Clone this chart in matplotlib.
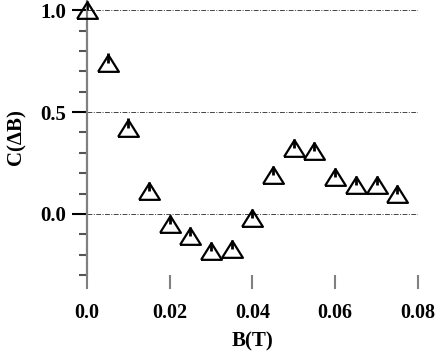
import numpy as np
import matplotlib
matplotlib.use('Agg')
import matplotlib.pyplot as plt
from matplotlib.ticker import MultipleLocator

# Data
b_field = [0.0, 0.005, 0.01, 0.015, 0.02, 0.025, 0.03, 0.035,
           0.04, 0.045, 0.05, 0.055, 0.06, 0.065, 0.07, 0.075]
c_delta = [1.0, 0.743, 0.424, 0.113, -0.049, -0.110, -0.181, -0.172,
           -0.020, 0.191, 0.324, 0.309, 0.181, 0.142, 0.142, 0.098]
err_up = [0.045] * len(b_field)
err_down = [0.0] * len(b_field)

x_ticks = [0.0, 0.02, 0.04, 0.06, 0.08]
x_tick_labels = ['0.0', '0.02', '0.04', '0.06', '0.08']
y_ticks = [0.0, 0.5, 1.0]
y_tick_labels = ['0.0', '0.5', '1.0']

plt.rcParams['font.family'] = ['Liberation Serif', 'DejaVu Serif']
plt.rcParams['font.weight'] = 'bold'

fig = plt.figure(figsize=(4.36, 3.56), dpi=100)
ax = fig.add_axes([0.1995, 0.2275, 0.759, 0.7725])

# open triangle marker, slightly wider than tall
tri = [(-1.0, -0.8), (1.0, -0.8), (0.0, 0.8), (-1.0, -0.8)]
ax.errorbar(b_field, c_delta, yerr=[err_down, err_up], fmt='none',
            ecolor='black', elinewidth=2.0, capsize=0, zorder=3)
ax.plot(b_field, c_delta, linestyle='none', marker=tri, markersize=15,
        markerfacecolor='none', markeredgecolor='black',
        markeredgewidth=1.6, zorder=4, clip_on=False)

ax.set_xlim(0.0, 0.08)
ax.set_ylim(-0.3, 1.05)

for y in y_ticks:
    ax.axhline(y, color='#444444', linewidth=0.7, linestyle=(0, (5, 1.5, 1, 1.5)), zorder=1)

ax.set_xticks(x_ticks)
ax.set_xticklabels(x_tick_labels)
ax.set_yticks(y_ticks)
ax.set_yticklabels(y_tick_labels)
ax.yaxis.set_minor_locator(MultipleLocator(0.1))

for side in ['top', 'right', 'bottom']:
    ax.spines[side].set_visible(False)
ax.spines['left'].set_color('#808080')
ax.spines['left'].set_linewidth(1.6)

ax.tick_params(axis='y', which='major', direction='out', length=11, width=1.5,
               color='black', labelsize=15, pad=4)
ax.tick_params(axis='y', which='minor', direction='out', length=6, width=1.5,
               color='#555555')
ax.tick_params(axis='x', which='major', direction='out', length=10, width=1.5,
               color='#808080', labelsize=14.5, pad=10)

ax.set_xlabel('B(T)', fontsize=15, fontweight='bold', labelpad=6)
ax.set_ylabel('C(ΔB)', fontsize=15, fontweight='bold', labelpad=10)

fig.savefig('out.png', dpi=100)
